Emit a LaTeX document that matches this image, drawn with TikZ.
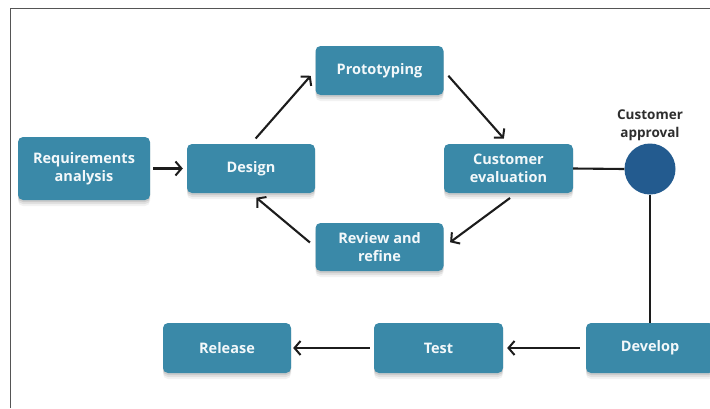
\documentclass[tikz,border=0pt]{standalone}
\usepackage{fontspec}
\setmainfont{Open Sans}
\usetikzlibrary{arrows.meta}
\definecolor{boxfill}{HTML}{3A89A8}
\definecolor{approvalfill}{HTML}{235B8F}
\definecolor{linecol}{HTML}{1C1C1C}
\definecolor{labelcol}{HTML}{2E2E2E}
\definecolor{framecol}{HTML}{555555}
\begin{document}
\begin{tikzpicture}[x=1pt,y=-1pt,
  softshadow/.style={
    preaction={fill=black, opacity=0.05, transform canvas={yshift=-6pt}},
    preaction={fill=black, opacity=0.07, transform canvas={yshift=-4pt}},
    preaction={fill=black, opacity=0.09, transform canvas={yshift=-2pt}}},
  stepbox/.style={draw=none, fill=boxfill, rounded corners=5pt,
    minimum width=128pt, minimum height=49pt, inner sep=0pt,
    align=center, text=white!94!boxfill,
    font=\fontsize{14.5}{18}\selectfont\bfseries, softshadow},
  flow/.style={draw=linecol, line width=2.1pt,
    -{Straight Barb[length=6pt,width=14pt,line width=2pt]}},
  link/.style={draw=linecol, line width=2.1pt}]
\useasboundingbox (0,0) rectangle (710,408);
\fill[white] (0,0) rectangle (710,408);
% page frame along the top and left edges
\draw[framecol, line width=1.6pt] (10.5,408) -- (10.5,8.5) -- (710,8.5);

% process steps
\node[stepbox, minimum width=132pt, minimum height=63pt] (req) at (84,168.5) {Requirements\\analysis};
\node[stepbox] (design) at (251,168.5) {Design};
\node[stepbox] (proto) at (379.5,70.5) {Prototyping};
\node[stepbox, minimum width=129pt] (eval) at (508.5,168.5) {Customer\\evaluation};
\node[stepbox, minimum height=48pt] (review) at (379.5,247) {Review and\\refine};
\node[stepbox, minimum height=50pt] (release) at (227,348) {Release};
\node[stepbox, minimum width=129pt, minimum height=50pt] (test) at (438.5,348) {Test};
\node[stepbox, minimum height=50pt] (develop) at (650,348) {Develop};

% approval decision point
\node[circle, fill=approvalfill, minimum size=51pt, inner sep=0pt] (approval) at (650,169) {};
\node[anchor=south, align=center, text=labelcol, inner sep=0pt,
  font=\fontsize{13.5}{18}\selectfont\bfseries]
  (approvallabel) at ([yshift=2pt]approval.north) {Customer\\approval};

% connectors
\draw[flow, shorten <=3pt, shorten >=4pt] (req.east) -- (design.west);
\draw[flow, shorten <=7pt, shorten >=7pt] (design.north) -- (proto.west);
\draw[flow, shorten <=7pt, shorten >=7pt] (proto.east) -- (eval.north);
\draw[flow, shorten <=8pt, shorten >=8pt] ([xshift=8pt]eval.south) -- (review.east);
\draw[flow, shorten <=7pt, shorten >=7pt] (review.west) -- (design.south);
\draw[link] (eval.east) -- (approval.west);
\draw[link] (approval.south) -- (develop.north);
\draw[flow, shorten <=6pt, shorten >=4pt] (develop.west) -- (test.east);
\draw[flow, shorten <=4pt, shorten >=2pt] (test.west) -- (release.east);
\end{tikzpicture}
\end{document}
